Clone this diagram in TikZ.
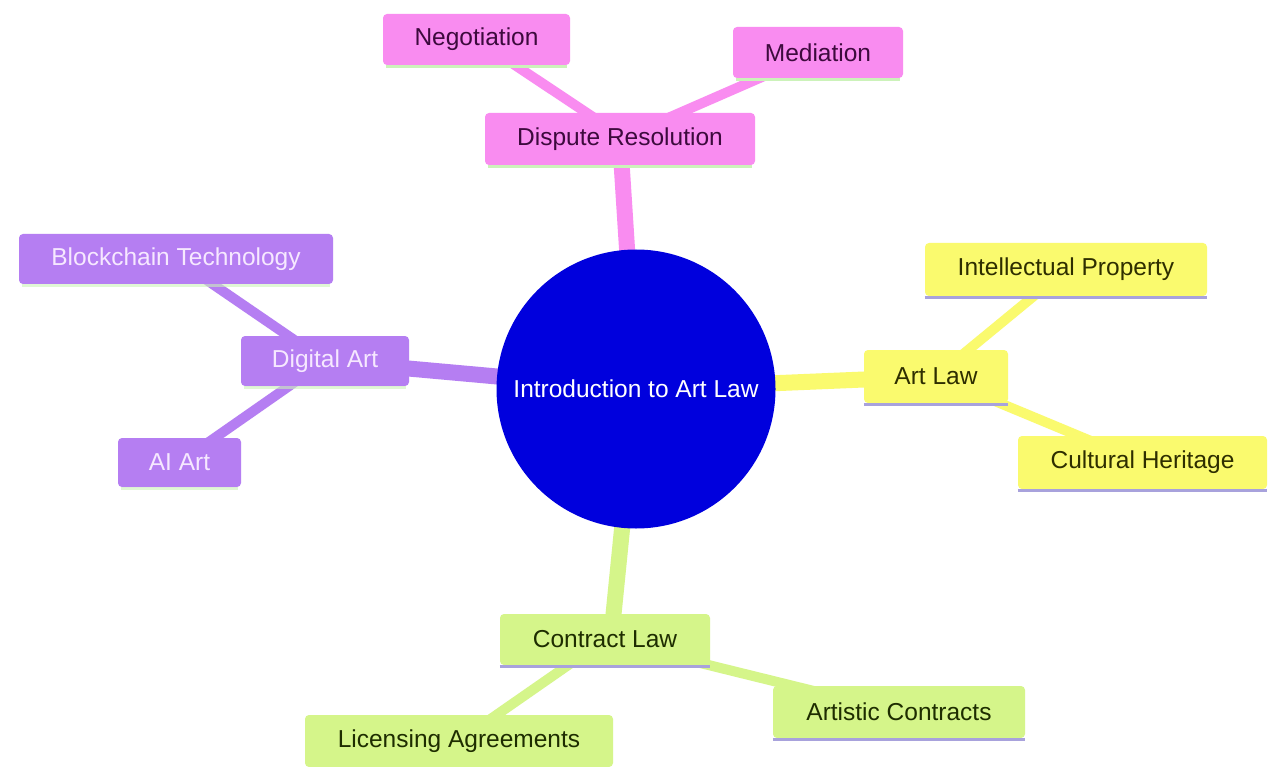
\documentclass[tikz,border=0pt]{standalone}
\usepackage{fontspec}
\setmainfont{Liberation Sans}
\usetikzlibrary{backgrounds}
\definecolor{pinkf}{HTML}{F98CF0}
\definecolor{pinkt}{HTML}{3D0A3D}
\definecolor{yelf}{HTML}{FAFA6E}
\definecolor{yelt}{HTML}{2E2E00}
\definecolor{purf}{HTML}{B57EF2}
\definecolor{purt}{HTML}{F6E8FF}
\definecolor{grnf}{HTML}{D5F58A}
\definecolor{grnt}{HTML}{1E2D00}
\definecolor{bluef}{HTML}{0000DD}
\definecolor{lav}{HTML}{A8A2DC}
\definecolor{lgrn}{HTML}{CCF2BA}
\tikzset{
  box/.style={rectangle, rounded corners=4pt, inner sep=0pt, font=\fontsize{24.5}{29}\selectfont},
  pinkbox/.style={box, fill=pinkf, text=pinkt},
  yelbox/.style={box, fill=yelf, text=yelt},
  purbox/.style={box, fill=purf, text=purt},
  grnbox/.style={box, fill=grnf, text=grnt},
  mainlink/.style={line width=16pt},
  sublink/.style={line width=10pt},
  ulav/.style={draw=lav, line width=3pt},
  ugrn/.style={draw=lgrn, line width=3pt},
}
\begin{document}
\begin{tikzpicture}[x=1pt,y=-1pt]
\useasboundingbox (0,0) rectangle (1271,767);

\node[circle, fill=bluef, minimum size=279pt, inner sep=0pt, text=white, font=\fontsize{24.5}{29}\selectfont] (c) at (636,389) {Introduction to Art Law};

\node[pinkbox, minimum width=270pt, minimum height=52pt] (dr) at (620,139) {Dispute Resolution};
\node[pinkbox, minimum width=187pt, minimum height=51pt] (neg) at (476.5,39.5) {Negotiation};
\node[pinkbox, minimum width=170pt, minimum height=51pt] (med) at (818,52.5) {Mediation};

\node[yelbox, minimum width=144pt, minimum height=53pt] (al) at (936,376.5) {Art Law};
\node[yelbox, minimum width=282pt, minimum height=53pt] (ip) at (1066,269.5) {Intellectual Property};
\node[yelbox, minimum width=249pt, minimum height=53pt] (ch) at (1142.5,462.5) {Cultural Heritage};

\node[purbox, minimum width=168pt, minimum height=50pt] (da) at (325,361) {Digital Art};
\node[purbox, minimum width=314pt, minimum height=50pt] (bt) at (176,259) {Blockchain Technology};
\node[purbox, minimum width=123pt, minimum height=49pt] (ai) at (179.5,462.5) {AI Art};

\node[grnbox, minimum width=210pt, minimum height=51pt] (cl) at (605,639.5) {Contract Law};
\node[grnbox, minimum width=308pt, minimum height=52pt] (la) at (459,741) {Licensing Agreements};
\node[grnbox, minimum width=252pt, minimum height=52pt] (ac) at (899,712) {Artistic Contracts};

\begin{scope}[on background layer]
  \fill[white] (0,0) rectangle (1271,767);
  \draw[mainlink, pinkf] (dr.center) -- (c.center);
  \draw[sublink, pinkf] (neg.center) -- ([xshift=6pt]dr.center);
  \draw[sublink, pinkf] (med.center) -- (dr.center);
  \draw[mainlink, yelf] (c.center) -- (al.center);
  \draw[sublink, yelf] (al.center) -- (ip.center);
  \draw[sublink, yelf] (al.center) -- (ch.center);
  \draw[mainlink, purf] (da.center) -- (c.center);
  \draw[sublink, purf] (bt.center) -- (da.center);
  \draw[sublink, purf] (ai.center) -- (da.center);
  \draw[mainlink, grnf] (c.center) -- ([xshift=6pt]cl.center);
  \draw[sublink, grnf] (cl.center) -- (la.center);
  \draw[sublink, grnf] (cl.center) -- (ac.center);
\end{scope}

\draw[ugrn] ([xshift=3pt,yshift=-1.5pt]dr.south west) -- ([xshift=-3pt,yshift=-1.5pt]dr.south east);
\draw[ugrn] ([xshift=3pt,yshift=-1.5pt]neg.south west) -- ([xshift=-3pt,yshift=-1.5pt]neg.south east);
\draw[ugrn] ([xshift=3pt,yshift=-1.5pt]med.south west) -- ([xshift=-3pt,yshift=-1.5pt]med.south east);
\draw[ulav] ([yshift=-1.5pt]al.south west) -- ([yshift=-1.5pt]al.south east);
\draw[ulav] ([yshift=-1.5pt]ip.south west) -- ([yshift=-1.5pt]ip.south east);
\draw[ulav] ([yshift=-1.5pt]ch.south west) -- ([yshift=-1.5pt]ch.south east);
\draw[ugrn, opacity=0.6] ([xshift=3pt,yshift=-1.5pt]da.south west) -- ([xshift=-3pt,yshift=-1.5pt]da.south east);
\draw[ugrn, opacity=0.6] ([xshift=3pt,yshift=-1.5pt]bt.south west) -- ([xshift=-3pt,yshift=-1.5pt]bt.south east);
\draw[ugrn, opacity=0.6] ([xshift=3pt,yshift=-1.5pt]ai.south west) -- ([xshift=-3pt,yshift=-1.5pt]ai.south east);
\draw[ulav] ([yshift=-1.5pt]cl.south west) -- ([yshift=-1.5pt]cl.south east);
\draw[ulav] ([yshift=-1.5pt]ac.south west) -- ([yshift=-1.5pt]ac.south east);
\end{tikzpicture}
\end{document}
